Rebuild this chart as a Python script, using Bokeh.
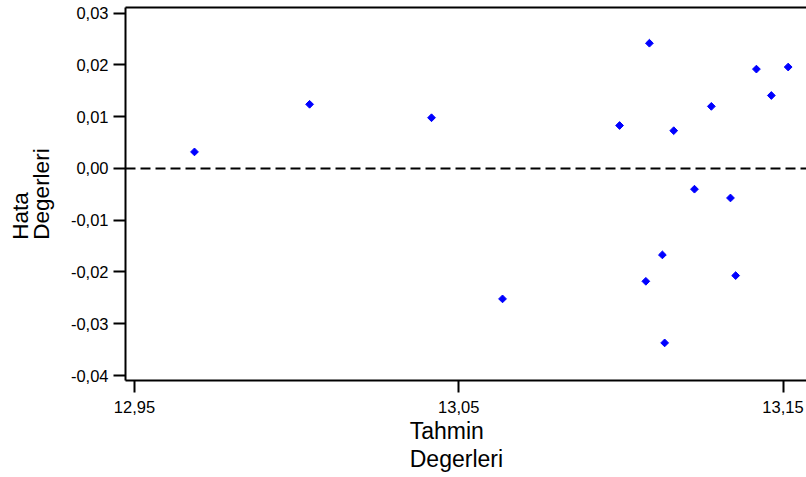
import math
from bokeh.plotting import figure
from bokeh.models import (CustomJSTickFormatter, FixedTicker, LinearAxis, Span,
                          Range1d, ColumnDataSource)
from bokeh.embed import file_html
from bokeh.resources import INLINE

# ---- data ----
tahmin = [12.9685, 13.0040, 13.0416, 13.0635, 13.0996, 13.1088, 13.1077,
          13.1128, 13.1135, 13.1163, 13.1227, 13.1279, 13.1338, 13.1354,
          13.1418, 13.1464, 13.1516]
hata = [0.0032, 0.0124, 0.0098, -0.0252, 0.0083, 0.0242, -0.0218,
        -0.0167, -0.0337, 0.0073, -0.0040, 0.0120, -0.0057, -0.0207,
        0.0192, 0.0141, 0.0196]
x_ticks = [12.95, 13.05, 13.15]
y_ticks = [-0.04, -0.03, -0.02, -0.01, 0.0, 0.01, 0.02, 0.03]
x_title_lines = ["Tahmin", "Degerleri"]
y_title_lines = ["Hata", "Degerleri"]

NB = "\u00a0"
# lines are centred by Bokeh; pad with no-break spaces so they line up on the left
x_title = x_title_lines[0] + NB * 6 + "\n" + x_title_lines[1] + NB * 3
y_title = y_title_lines[0] + NB * 7 + "\n" + y_title_lines[1]

FONT = "Liberation Sans"
X0, X1 = 12.947224, 13.157247
Y0, Y1 = -0.040966, 0.031101

src = ColumnDataSource(dict(x=tahmin, y=hata))

p = figure(width=806, height=477,
           x_range=Range1d(X0, X1), y_range=Range1d(Y0, Y1),
           output_backend="svg", toolbar_location=None,
           min_border_left=125, min_border_right=0,
           min_border_top=7, min_border_bottom=97,
           x_axis_location=None, y_axis_location=None)
p.outline_line_color = None
p.background_fill_color = "white"
p.border_fill_color = "white"
p.xgrid.visible = False
p.ygrid.visible = False

fmt = CustomJSTickFormatter(code="return tick.toFixed(2).replace('.', ',');")


def style_axis(ax, size, lh):
    ax.axis_line_width = 2
    ax.axis_line_color = "black"
    ax.major_tick_line_width = 2
    ax.major_tick_line_color = "black"
    ax.major_tick_out = 12
    ax.major_tick_in = 0
    ax.minor_tick_line_color = None
    ax.major_label_text_font = FONT
    ax.major_label_text_font_size = "16.5px"
    ax.major_label_text_color = "black"
    ax.axis_label_text_font = FONT
    ax.axis_label_text_font_size = size
    ax.axis_label_text_font_style = "normal"
    ax.axis_label_text_color = "black"
    ax.axis_label_text_line_height = lh


xaxis = LinearAxis(ticker=FixedTicker(ticks=x_ticks), formatter=fmt,
                   axis_label=x_title)
style_axis(xaxis, "23px", 1.09)
xaxis.major_label_standoff = 8
xaxis.axis_label_standoff = 2
p.add_layout(xaxis, "below")

yaxis = LinearAxis(ticker=FixedTicker(ticks=y_ticks), formatter=fmt,
                   axis_label=y_title)
style_axis(yaxis, "22.5px", 0.85)
yaxis.major_label_standoff = 5
yaxis.axis_label_standoff = 14
p.add_layout(yaxis, "left")

top = LinearAxis(ticker=FixedTicker(ticks=[]), axis_line_width=2,
                 axis_line_color="black", major_tick_out=0, major_tick_in=0,
                 minor_tick_out=0, minor_tick_in=0,
                 major_label_standoff=0, major_label_text_font_size="0px",
                 axis_label_standoff=0)
p.add_layout(top, "above")

p.add_layout(Span(location=0, dimension="width", line_color="black",
                  line_width=2, line_dash="10 5"))

p.scatter("x", "y", source=src, marker="square", size=5.5,
          angle=math.pi / 4, fill_color="blue", line_color="blue")

open("out.html", "w").write(file_html(p, INLINE))
